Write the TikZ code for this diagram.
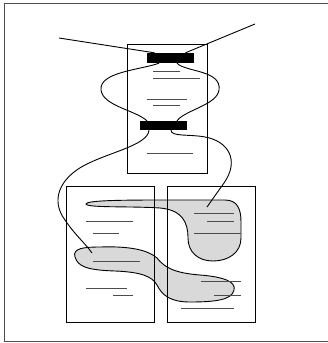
\documentclass[tikz,border=0pt]{standalone}
\usetikzlibrary{positioning}

\begin{document}
\begin{tikzpicture}[x=1pt,y=-1pt,page/.style={draw=black,line width=0.9pt,minimum width=80pt,minimum height=129pt,inner sep=0pt},half/.style={page,minimum width=88pt,minimum height=136pt},bar/.style={fill=black,minimum width=47pt,minimum height=10pt,inner sep=0pt},blob/.style={fill=black!15,draw=black,line width=0.9pt},txt/.style={draw=black!70,line width=1pt},wire/.style={draw=black,line width=0.9pt}]
\useasboundingbox (0,0) rectangle (328,343);
\draw[black!70,line width=1.3pt] (4.5,3.5) rectangle (335,341.5);
% highlighted regions
\draw[blob] (86,204) .. controls (86,200) and (130,200) .. (170,200) -- (225,200) .. controls (238,200) and (241,210) .. (241,222) -- (241,238) .. controls (241,253) and (228,261) .. (213,261) .. controls (198,261) and (188,252) .. (188,238) .. controls (188,222) and (182,210) .. (160,208) .. controls (130,206) and (87,208) .. (86,204) -- cycle;
\draw[blob] (75,257) .. controls (72,248) and (85,247) .. (100,247) .. controls (130,246) and (148,250) .. (157,258) .. controls (165,268) and (175,273) .. (200,275) .. controls (225,277) and (236,282) .. (234,290) .. controls (232,300) and (215,302) .. (190,302) .. controls (170,302) and (162,295) .. (157,285) .. controls (152,276) and (140,272) .. (115,271) .. controls (85,270) and (78,266) .. (75,257) -- cycle;
% pages
\node[page] (top) at (167,108.5) {};
\node[half] (left) at (110,254) {};
\node[half] (right) at (211,254) {};
\foreach \a/\b/\y in {153/180/71,153/200/78,147/187/99,153/180/105,147/193/153,86/133/221,93/119/233,93/140/261,86/127/288,113/133/295,194/234/213,207/234/221,194/241/233,201/241/281,214/241/295,181/234/308} \draw[txt] (\a,\y) -- (\b,\y);
% bars and wires
\node[bar] (bar1) at (170.5,58) {};
\node[bar,minimum height=9pt] (bar2) at (163.5,125.5) {};
\coordinate (inL) at (59,38); \coordinate (inR) at (255,24); \coordinate (endA) at (92,253); \coordinate (endB) at (207,207);
\draw[wire] (inL) -- ([xshift=-16pt]bar1.north);
\draw[wire] (inR) -- ([xshift=15pt]bar1.north);
\draw[wire] ([xshift=-11.5pt]bar1.south) .. controls (140,70) and (99,72) .. (101,90) .. controls (103,106) and (135,110) .. ([xshift=-16.5pt]bar2.north);
\draw[wire] ([xshift=6.5pt]bar1.south) .. controls (185,72) and (222,70) .. (219,90) .. controls (217,105) and (185,110) .. ([xshift=13.5pt]bar2.north);
\draw[wire] ([xshift=-14.5pt]bar2.south) .. controls (148,145) and (110,152) .. (85,165) .. controls (60,178) and (50,200) .. (65,220) .. controls (75,235) and (85,243) .. (endA);
\draw[wire] ([xshift=7.5pt]bar2.south) .. controls (171,137) and (190,134) .. (205,137) .. controls (228,141) and (240,160) .. (224,183) -- (endB);
\end{tikzpicture}
\end{document}
